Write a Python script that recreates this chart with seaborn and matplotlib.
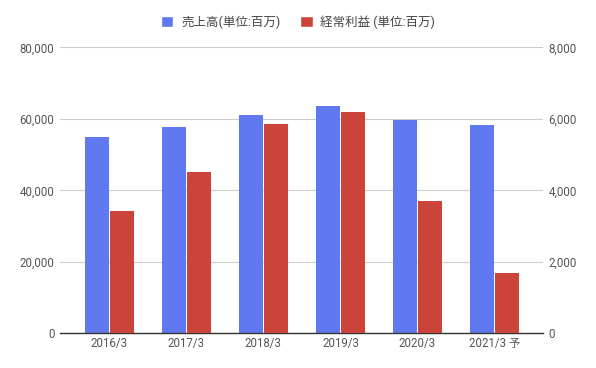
import matplotlib
matplotlib.use("Agg")
import matplotlib.pyplot as plt
import matplotlib.ticker as mticker
from matplotlib.patches import Patch
import numpy as np
import pandas as pd
import seaborn as sns

periods = ["2016/3", "2017/3", "2018/3", "2019/3", "2020/3", "2021/3 予"]
sales = [54800, 57600, 61000, 63500, 59700, 58200]
profit = [3410, 4510, 5850, 6190, 3690, 1680]

sales_label = "売上高(単位:百万)"
profit_label = "経常利益 (単位:百万)"
BLUE = "#6079f0"
RED = "#cc4439"

sns.set_theme(style="white")
plt.rcParams["font.family"] = ["Roboto", "Noto Sans CJK JP", "DejaVu Sans"]

df = pd.DataFrame({
    "period": periods * 2,
    "series": [sales_label] * len(periods) + [profit_label] * len(periods),
    "sales": sales + [np.nan] * len(periods),
    "profit": [np.nan] * len(periods) + profit,
})

fig = plt.figure(figsize=(5.96, 3.68), dpi=100)
ax = fig.add_axes([0.1007, 0.0943, 0.8103, 0.7772])
ax2 = ax.twinx()

hue_order = [sales_label, profit_label]
palette = {sales_label: BLUE, profit_label: RED}
bar_kw = dict(hue="series", hue_order=hue_order, palette=palette, order=periods,
              width=0.64, gap=0.03, legend=False, saturation=1, errorbar=None,
              linewidth=0)
sns.barplot(data=df, x="period", y="sales", ax=ax, **bar_kw)
sns.barplot(data=df, x="period", y="profit", ax=ax2, **bar_kw)

ax.set_ylim(0, 80000)
ax2.set_ylim(0, 8000)
ax.set_xlim(-0.64, 5.63)
ax.yaxis.set_major_locator(mticker.MultipleLocator(20000))
ax2.yaxis.set_major_locator(mticker.MultipleLocator(2000))
ax.yaxis.set_major_formatter(mticker.StrMethodFormatter("{x:,.0f}"))
ax2.yaxis.set_major_formatter(mticker.StrMethodFormatter("{x:,.0f}"))

ax.grid(axis="y", color="#cccccc", linewidth=0.8)
ax.set_axisbelow(True)
ax2.grid(False)

for a in (ax, ax2):
    for s in a.spines.values():
        s.set_visible(False)
    a.set_xlabel("")
    a.set_ylabel("")
    a.tick_params(axis="both", length=0, labelsize=8.3, labelcolor="#555555", pad=4)
ax.spines["bottom"].set_visible(True)
ax.spines["bottom"].set_color("#333333")
ax.spines["bottom"].set_linewidth(1)
ax.tick_params(axis="x", pad=3)

handles = [Patch(facecolor=BLUE, label=sales_label),
           Patch(facecolor=RED, label=profit_label)]
fig.legend(handles=handles, loc="upper center", bbox_to_anchor=(0.5, 0.99), ncol=2,
           frameon=False, fontsize=9, labelcolor="#444444", handlelength=1.0,
           handleheight=1.0, handletextpad=0.6, columnspacing=1.6)

fig.savefig("out.png", dpi=100)
